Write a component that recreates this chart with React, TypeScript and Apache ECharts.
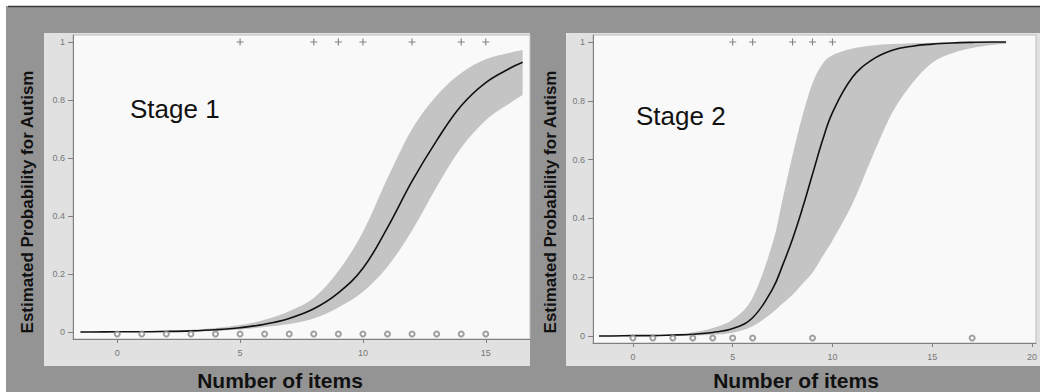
import { useEffect, useRef } from 'react';
import * as echarts from 'echarts';

// ---------- Stage 1 ----------
const stage1X = [-1.5, -1, 0, 1, 2, 3, 4, 5, 6, 7, 8, 9, 10, 11, 12, 13, 14, 15, 16, 16.5];
const stage1Fit = [0.0, 0.0, 0.001, 0.001, 0.002, 0.004, 0.008, 0.015, 0.027, 0.047, 0.08, 0.135, 0.22, 0.36, 0.52, 0.66, 0.78, 0.86, 0.91, 0.93];
const stage1Upper = [0.001, 0.001, 0.002, 0.003, 0.005, 0.008, 0.014, 0.024, 0.042, 0.072, 0.117, 0.21, 0.345, 0.53, 0.7, 0.815, 0.893, 0.94, 0.963, 0.972];
const stage1Lower = [0.0, 0.0, 0.0, 0.0, 0.001, 0.002, 0.004, 0.009, 0.017, 0.028, 0.047, 0.085, 0.139, 0.225, 0.35, 0.5, 0.635, 0.73, 0.79, 0.817];
const stage1Positive = [5, 8, 9, 10, 12, 14, 15];
const stage1Negative = [0, 1, 2, 3, 4, 5, 6, 7, 8, 9, 10, 11, 12, 13, 14, 15];

// ---------- Stage 2 ----------
const stage2X = [-1.7, -1, 0, 1, 2, 3, 4, 5, 6, 7, 7.5, 8, 8.5, 9, 9.5, 10, 11, 12, 13, 14, 15, 16, 17, 18, 18.7];
const stage2Fit = [0.0, 0.0, 0.001, 0.001, 0.003, 0.006, 0.012, 0.025, 0.062, 0.16, 0.24, 0.33, 0.435, 0.55, 0.665, 0.76, 0.88, 0.94, 0.972, 0.986, 0.993, 0.997, 0.999, 1.0, 1.0];
const stage2Upper = [0.0, 0.001, 0.001, 0.003, 0.006, 0.012, 0.027, 0.056, 0.13, 0.315, 0.465, 0.615, 0.75, 0.86, 0.925, 0.955, 0.978, 0.988, 0.993, 0.996, 0.998, 0.999, 0.999, 1.0, 1.0];
const stage2Lower = [0.0, 0.0, 0.0, 0.0, 0.001, 0.002, 0.004, 0.011, 0.033, 0.08, 0.11, 0.14, 0.178, 0.215, 0.27, 0.325, 0.45, 0.61, 0.76, 0.86, 0.93, 0.962, 0.98, 0.99, 0.993];
const stage2Positive = [5, 6, 8, 9, 10];
const stage2Negative = [0, 1, 2, 3, 4, 5, 6, 9, 17];

// ---------- Ticks / labels ----------
const yTicks = [0, 0.2, 0.4, 0.6, 0.8, 1];
const x1Ticks = [0, 5, 10, 15];
const x2Ticks = [0, 5, 10, 15, 20];
const yTitle = 'Estimated Probability for Autism';
const xTitle = 'Number of items';
const panelTitles = ['Stage 1', 'Stage 2'];

const FONT = '"Liberation Sans", Arial, Helvetica, sans-serif';
const PLUS = 'path://M4.2,0H5.8V4.2H10V5.8H5.8V10H4.2V5.8H0V4.2H4.2Z';

// Catmull-Rom style smooth path through screen points (geometry only)
function smoothSegments(pts: number[][]): string {
  let d = '';
  for (let i = 0; i < pts.length - 1; i++) {
    const p0 = pts[i - 1] || pts[i];
    const p1 = pts[i];
    const p2 = pts[i + 1];
    const p3 = pts[i + 2] || pts[i + 1];
    const c1x = p1[0] + (p2[0] - p0[0]) / 6;
    const c1y = p1[1] + (p2[1] - p0[1]) / 6;
    const c2x = p2[0] - (p3[0] - p1[0]) / 6;
    const c2y = p2[1] - (p3[1] - p1[1]) / 6;
    d += `C${c1x.toFixed(2)},${c1y.toFixed(2)} ${c2x.toFixed(2)},${c2y.toFixed(2)} ${p2[0].toFixed(2)},${p2[1].toFixed(2)}`;
  }
  return d;
}

function bandRenderer(xs: number[], lo: number[], hi: number[]) {
  return (_params: any, api: any) => {
    const up: number[][] = xs.map((x, i) => api.coord([x, hi[i]]));
    const dn: number[][] = xs.map((x, i) => api.coord([x, lo[i]])).reverse();
    const d =
      `M${up[0][0].toFixed(2)},${up[0][1].toFixed(2)}` +
      smoothSegments(up) +
      `L${dn[0][0].toFixed(2)},${dn[0][1].toFixed(2)}` +
      smoothSegments(dn) +
      'Z';
    return {
      type: 'path',
      shape: { pathData: d },
      style: { fill: '#c4c4c4' },
    };
  };
}

function xAxisCfg(gridIndex: number, min: number, max: number, ticks: number[]) {
  return {
    type: 'value',
    gridIndex,
    min,
    max,
    splitLine: { show: false },
    axisLine: { show: true, onZero: false, lineStyle: { color: '#808080', width: 1 } },
    axisTick: { show: true, length: 4, customValues: ticks, lineStyle: { color: '#808080' } },
    axisLabel: {
      customValues: ticks,
      color: '#777',
      fontSize: 9,
      fontFamily: FONT,
      margin: 9,
    },
  };
}

function yAxisCfg(gridIndex: number) {
  return {
    type: 'value',
    gridIndex,
    min: -0.024,
    max: 1.024,
    splitLine: { show: false },
    axisLine: { show: true, onZero: false, lineStyle: { color: '#808080', width: 1 } },
    axisTick: { show: true, length: 5, customValues: yTicks, lineStyle: { color: '#808080' } },
    axisLabel: {
      customValues: yTicks,
      color: '#777',
      fontSize: 9,
      fontFamily: FONT,
      margin: 8,
      formatter: (v: number) => String(Math.round(v * 10) / 10),
    },
  };
}

function panelSeries(
  idx: number,
  xs: number[],
  fit: number[],
  lo: number[],
  hi: number[],
  pos: number[],
  neg: number[]
) {
  return [
    {
      type: 'custom',
      xAxisIndex: idx,
      yAxisIndex: idx,
      data: [[0, 0]],
      encode: { x: 0, y: 1 },
      renderItem: bandRenderer(xs, lo, hi),
      clip: true,
      silent: true,
      z: 2,
    },
    {
      type: 'line',
      xAxisIndex: idx,
      yAxisIndex: idx,
      data: xs.map((x, i) => [x, fit[i]]),
      smooth: 0.4,
      showSymbol: false,
      lineStyle: { color: '#111', width: 1.6 },
      z: 5,
    },
    {
      type: 'scatter',
      xAxisIndex: idx,
      yAxisIndex: idx,
      data: pos.map((x) => [x, 1]),
      symbol: PLUS,
      symbolSize: 7,
      itemStyle: { color: '#666' },
      z: 6,
    },
    {
      type: 'scatter',
      xAxisIndex: idx,
      yAxisIndex: idx,
      data: neg.map((x) => [x, 0]),
      symbol: 'emptyCircle',
      symbolSize: 5,
      symbolOffset: [0, 2],
      itemStyle: { color: '#888', borderColor: '#888', borderWidth: 1 },
      z: 6,
    },
  ];
}

export default function App() {
  const ref = useRef<HTMLDivElement>(null);

  useEffect(() => {
    document.body.style.margin = '0';
    if (!ref.current) return;
    const chart = echarts.init(ref.current, null, { renderer: 'svg' });

    const option: any = {
      animation: false,
      backgroundColor: '#949494',
      textStyle: { fontFamily: FONT },
      grid: [
        {
          left: 73,
          top: 35,
          width: 457,
          height: 304,
          show: true,
          backgroundColor: '#f9f9f9',
          borderColor: '#bdbdbd',
          borderWidth: 1,
        },
        {
          left: 593,
          top: 35,
          width: 447,
          height: 308,
          show: true,
          backgroundColor: '#f9f9f9',
          borderColor: '#bdbdbd',
          borderWidth: 1,
        },
      ],
      xAxis: [xAxisCfg(0, -1.8, 16.8, x1Ticks), xAxisCfg(1, -2, 20.2, x2Ticks)],
      yAxis: [yAxisCfg(0), yAxisCfg(1)],
      graphic: [
        // page framing
        { type: 'rect', z: -10, shape: { x: 0, y: 0, width: 1040, height: 6 }, style: { fill: '#ffffff' } },
        { type: 'rect', z: -10, shape: { x: 0, y: 0, width: 6, height: 392 }, style: { fill: '#ffffff' } },
        { type: 'line', z: -9, shape: { x1: 8, y1: 6.5, x2: 1040, y2: 6.5 }, style: { stroke: '#3a3a3a', lineWidth: 1.5 } },
        // light panel boxes
        { type: 'rect', z: -9, shape: { x: 44, y: 33, width: 486, height: 333 }, style: { fill: '#e1e1e1' } },
        { type: 'rect', z: -9, shape: { x: 566, y: 33, width: 474, height: 333 }, style: { fill: '#e1e1e1' } },
        // stage labels
        {
          type: 'text',
          z: 20,
          x: 130,
          y: 109,
          style: { text: panelTitles[0], fontSize: 26, fontFamily: FONT, fill: '#111', align: 'left', verticalAlign: 'middle' },
        },
        {
          type: 'text',
          z: 20,
          x: 636,
          y: 116,
          style: { text: panelTitles[1], fontSize: 26, fontFamily: FONT, fill: '#111', align: 'left', verticalAlign: 'middle' },
        },
        // y titles
        {
          type: 'text',
          z: 20,
          x: 27,
          y: 202,
          rotation: Math.PI / 2,
          style: { text: yTitle, fontSize: 17, fontWeight: 'bold', fontFamily: FONT, fill: '#111', align: 'center', verticalAlign: 'middle' },
        },
        {
          type: 'text',
          z: 20,
          x: 550,
          y: 202,
          rotation: Math.PI / 2,
          style: { text: yTitle, fontSize: 17, fontWeight: 'bold', fontFamily: FONT, fill: '#111', align: 'center', verticalAlign: 'middle' },
        },
        // x titles
        {
          type: 'text',
          z: 20,
          x: 280,
          y: 380,
          style: { text: xTitle, fontSize: 21, fontWeight: 'bold', fontFamily: FONT, fill: '#111', align: 'center', verticalAlign: 'middle' },
        },
        {
          type: 'text',
          z: 20,
          x: 796,
          y: 380,
          style: { text: xTitle, fontSize: 21, fontWeight: 'bold', fontFamily: FONT, fill: '#111', align: 'center', verticalAlign: 'middle' },
        },
      ],
      series: [
        ...panelSeries(0, stage1X, stage1Fit, stage1Lower, stage1Upper, stage1Positive, stage1Negative),
        ...panelSeries(1, stage2X, stage2Fit, stage2Lower, stage2Upper, stage2Positive, stage2Negative),
      ],
    };

    chart.setOption(option);
    return () => chart.dispose();
  }, []);

  return <div ref={ref} style={{ width: 1040, height: 392 }} />;
}
